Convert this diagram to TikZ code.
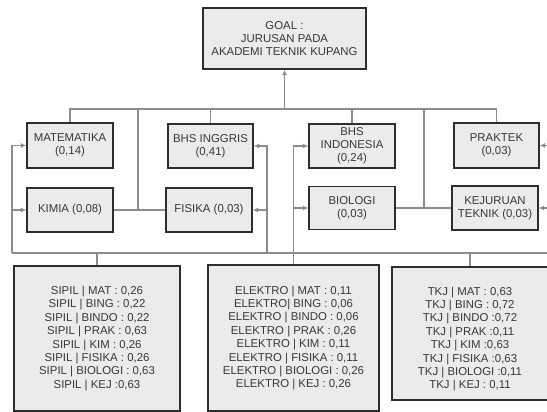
\documentclass[tikz,border=0pt]{standalone}
\usepackage{fontspec}
\setmainfont{Liberation Sans}
\usetikzlibrary{arrows.meta}
\definecolor{boxfill}{HTML}{EBEBEB}
\definecolor{boxline}{HTML}{2E2E2E}
\definecolor{connc}{HTML}{8C8C8C}
\definecolor{txtc}{HTML}{383838}
\begin{document}
\begin{tikzpicture}[x=1pt,y=-1pt,
  box/.style={draw=boxline, line width=1.3pt, fill=boxfill, inner sep=0pt, align=center, text=txtc, font=\fontsize{11.4}{13.4}\selectfont},
  btxt/.style={inner sep=0pt, align=center, text=txtc, font=\fontsize{11.4}{13.4}\selectfont},
  conn/.style={draw=connc, line width=1.5pt},
  arr/.style={conn, -{Latex[length=5.5pt,width=5pt]}}]
\clip (0,0) rectangle (547,412);
% nodes
\node[box, minimum width=163pt, minimum height=61pt] (goal) at (284.5,38.5) {GOAL :\\JURUSAN PADA\\AKADEMI TEKNIK KUPANG};
\node[box, minimum width=86pt, minimum height=45pt] (mat) at (70,145.5) {MATEMATIKA\\(0,14)};
\node[box, minimum width=86pt, minimum height=44pt] (kim) at (70,210) {KIMIA (0,08)};
\node[box, minimum width=85pt, minimum height=44pt] (bing) at (210.5,146) {BHS INGGRIS\\(0,41)};
\node[box, minimum width=86pt, minimum height=44pt] (fis) at (209,210) {FISIKA (0,03)};
\node[box, minimum width=86pt, minimum height=44pt, font=\fontsize{11.4}{13}\selectfont] (bind) at (352,146) {BHS\\INDONESIA\\(0,24)};
\node[box, minimum width=86pt, minimum height=43pt] (bio) at (352,208) {BIOLOGI\\(0,03)};
\node[box, minimum width=85pt, minimum height=45pt] (prak) at (496.5,145.5) {PRAKTEK\\(0,03)};
\node[box, minimum width=86pt, minimum height=44pt] (kej) at (495,208) {KEJURUAN\\TEKNIK (0,03)};
\node[box, minimum width=166pt, minimum height=145pt] (sipil) at (97,338.5) {SIPIL | MAT : 0,26\\SIPIL | BING : 0,22\\SIPIL | BINDO : 0,22\\SIPIL | PRAK : 0,63\\SIPIL | KIM : 0,26\\SIPIL | FISIKA : 0,26\\SIPIL | BIOLOGI : 0,63\\SIPIL | KEJ :0,63};
\node[box, minimum width=171pt, minimum height=146pt] (elek) at (293.5,338) {ELEKTRO | MAT : 0,11\\ELEKTRO| BING : 0,06\\ELEKTRO | BINDO : 0,06\\ELEKTRO | PRAK : 0,26\\ELEKTRO | KIM : 0,11\\ELEKTRO | FISIKA : 0,11\\ELEKTRO | BIOLOGI : 0,26\\ELEKTRO | KEJ : 0,26};
\node[box, minimum width=156pt, minimum height=133pt] (tkj) at (470,333.5) {};
\node[btxt] (tkjtxt) at ([yshift=-5.5pt]tkj.center) {TKJ | MAT : 0,63\\TKJ | BING : 0,72\\TKJ | BINDO :0,72\\TKJ | PRAK :0,11\\TKJ | KIM :0,63\\TKJ | FISIKA :0,63\\TKJ | BIOLOGI :0,11\\TKJ | KEJ : 0,11};
% coordinates
\coordinate (hub) at (284.5,109);
\coordinate (v1t) at (138,109);
\coordinate (v1b) at (138,210);
\coordinate (v2t) at (424,109);
\coordinate (v2b) at (424,208);
\coordinate (sl) at (12,253);
\coordinate (sr) at (267,253);
\coordinate (tr) at (550,253);
% top tree
\draw[conn] (mat.north) -- (mat.north |- hub) -- (prak.north |- hub) -- (prak.north);
\draw[arr] (hub) -- (goal.south);
\draw[conn] (bing.north) -- (bing.north |- hub);
\draw[conn] (bind.north) -- (bind.north |- hub);
\draw[conn] (kim.east) -- (fis.west);
\draw[conn] (v1t) -- (v1b);
\draw[conn] (bio.east) -- (kej.west);
\draw[conn] (v2t) -- (v2b);
% sipil
\draw[conn] (sipil.north) -- (sipil.north |- sl);
\draw[conn] (sl) -- (sr);
\draw[arr] (sl) |- (mat.west);
\draw[arr] (sl |- kim.west) -- (kim.west);
\draw[arr] (sr) |- (bing.east);
\draw[arr] (sr |- fis.east) -- (fis.east);
% elektro
\draw[arr] (elek.north) |- (bind.west);
\draw[arr] (elek.north |- bio.west) -- (bio.west);
% tkj
\draw[conn] (tkj.north) -- (tkj.north |- tr);
\draw[conn] (sr) -- (tr);
\draw[arr] (tr) |- (prak.east);
\draw[arr] (tr |- kej.east) -- (kej.east);
\end{tikzpicture}
\end{document}
